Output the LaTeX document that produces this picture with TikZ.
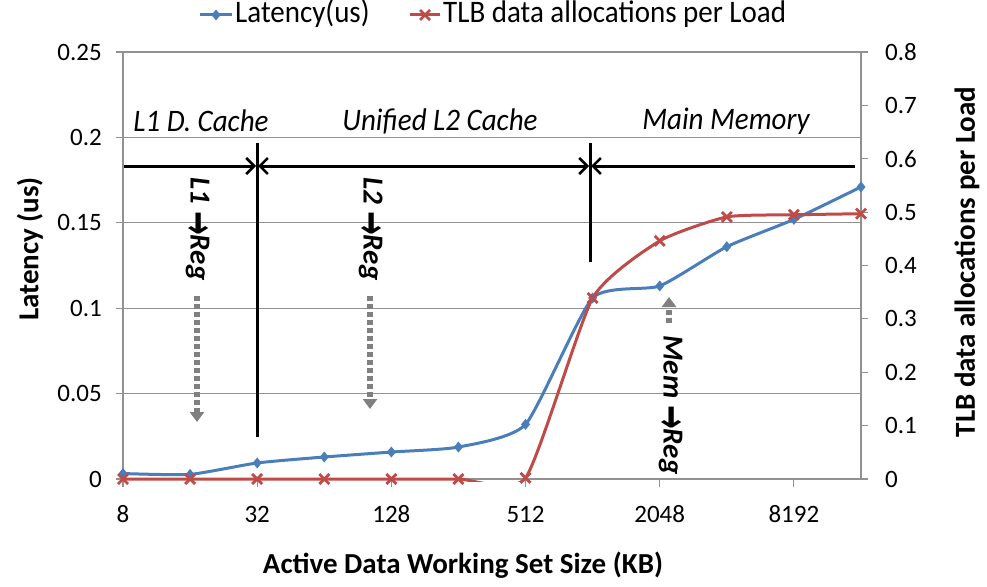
\documentclass[tikz,border=0pt]{standalone}
\usepackage{fontspec}
\setmainfont{Carlito}
\newfontfamily\arrowfont{DejaVu Sans}
\usetikzlibrary{arrows.meta}

\definecolor{serblue}{RGB}{74,126,187}
\definecolor{serred}{RGB}{190,75,72}
\definecolor{gridgray}{RGB}{145,145,145}
\definecolor{arrgray}{RGB}{128,128,128}

\newcommand\setfs[1]{\fontsize{#1}{#1}\selectfont}
\newcommand\tall[1]{\scalebox{1}[1.08]{#1}}
\newcommand\xferarrow{\raisebox{-6pt}{\scalebox{0.95}[1.5]{\arrowfont\bfseries\setfs{30}→}}}

\tikzset{
  gridline/.style={draw=gridgray, line width=1.1pt},
  ticklab/.style={font=\setfs{25}, inner sep=0pt},
  axislab/.style={font=\setfs{29}\bfseries, inner sep=0pt},
  legendlab/.style={font=\setfs{29}, inner sep=0pt, anchor=west},
  regionlab/.style={font=\setfs{29}\itshape, inner sep=0pt},
  transferlab/.style={font=\setfs{29}\bfseries\itshape, inner sep=0pt, rotate=-90},
  bound/.style={draw=black, line width=3pt},
  spanline/.style={draw=black, line width=3pt},
  spanto/.style={-{Straight Barb[length=8pt, width=16pt, line width=2.5pt]}},
  spanfrom/.style={{Straight Barb[length=8pt, width=16pt, line width=2.5pt]}-},
  spanboth/.style={{Straight Barb[length=8pt, width=16pt, line width=2.5pt]}-{Straight Barb[length=8pt, width=16pt, line width=2.5pt]}},
  flowarrow/.style={draw=arrgray, line width=5.5pt, dash pattern=on 5pt off 3pt,
    -{Triangle[length=10pt, width=14pt]}},
  latency/.style={draw=serblue, line width=3pt},
  tlb/.style={draw=serred, line width=3pt},
}

% data-point markers, sized in absolute units
\newcommand\bluediamond[1]{\fill[serblue] #1 ++(0pt,5.5pt) -- ++(4.5pt,-5.5pt) -- ++(-4.5pt,-5.5pt) -- ++(-4.5pt,5.5pt) -- cycle;}
\newcommand\redcross[1]{\draw[serred, line width=2.8pt] #1 ++(-5pt,-5pt) -- ++(10pt,10pt) ++(-10pt,0pt) -- ++(10pt,-10pt);}

\begin{document}
\begin{tikzpicture}[x=1pt, y=-1pt]
  \useasboundingbox (0,0) rectangle (987,586);

  % horizontal gridlines (left axis, step 0.05) and left ticks
  \foreach \v/\lab in {0/0, 0.05/0.05, 0.1/0.1, 0.15/0.15, 0.2/0.2, 0.25/0.25} {
    \pgfmathsetmacro\py{479-1708*\v}
    \draw[gridline] (116,\py) -- (861,\py);
    \node[ticklab, anchor=east] (yl-\lab) at (102,\py) {\lab};
  }
  % plot frame sides
  \draw[gridline] (123,52) -- (123,479);
  \draw[gridline] (861,52) -- (861,479);
  % right axis ticks and labels (step 0.1)
  \foreach \k in {0,...,8} {
    \pgfmathsetmacro\py{479-53.375*\k}
    \draw[gridline] (861,\py) -- (868,\py);
    \node[ticklab, anchor=west] (yr-\k) at (885,\py) {\ifnum\k=0 0\else 0.\k\fi};
  }
  % category ticks and labels
  \foreach \i/\lab in {0/8, 2/32, 4/128, 6/512, 8/2048, 10/8192} {
    \pgfmathsetmacro\px{123+67.09*\i}
    \draw[gridline] (\px,479) -- (\px,487);
    \node[ticklab] (xl-\lab) at (\px,514) {\lab};
  }

  % axis titles
  \node[axislab, rotate=90] (ytitle) at (30,249) {Latency (us)};
  \node[axislab, rotate=90] (y2title) at (967,262) {TLB data allocations per Load};
  \node[axislab] (xtitle) at (463,565) {Active Data Working Set Size (KB)};

  % legend
  \coordinate (lgb1) at (200,15);
  \coordinate (lgb2) at (232,15);
  \draw[latency] (lgb1) -- (lgb2);
  \bluediamond{(216,15)}
  \node[legendlab] (lg-lat) at (235,14) {\tall{Latency(us)}};
  \coordinate (lgr1) at (410,15);
  \coordinate (lgr2) at (440,15);
  \draw[tlb] (lgr1) -- (lgr2);
  \redcross{(425,15)}
  \node[legendlab] (lg-tlb) at (443,14) {\tall{TLB data allocations per Load}};

  % memory hierarchy regions
  \node[regionlab] (r-l1) at (201,121) {\tall{L1 D. Cache}};
  \node[regionlab] (r-l2) at (440,121) {\tall{Unified L2 Cache}};
  \node[regionlab] (r-mem) at (726,121) {\tall{Main Memory}};

  \coordinate (b1top) at (257,143);
  \coordinate (b1bot) at (257,437);
  \coordinate (b2top) at (590,143);
  \coordinate (b2bot) at (590,262);
  \draw[bound] (b1top) -- (b1bot);
  \draw[bound] (b2top) -- (b2bot);

  \coordinate (s1a) at (124,166);
  \coordinate (s1b) at (256,166);
  \coordinate (s2a) at (258,166);
  \coordinate (s2b) at (589,166);
  \coordinate (s3a) at (591,166);
  \coordinate (s3b) at (855,166);
  \draw[spanline, spanto] (s1a) -- (s1b);
  \draw[spanline, spanboth] (s2a) -- (s2b);
  \draw[spanline, spanfrom] (s3a) -- (s3b);

  % transfer annotations
  \node[transferlab] (t-l1) at (197,229) {L1 \xferarrow Reg};
  \node[transferlab] (t-l2) at (370,229) {L2 \xferarrow Reg};
  \node[transferlab] (t-mem) at (670,405) {Mem \xferarrow Reg};

  \coordinate (f1a) at (197,296);
  \coordinate (f1b) at (197,422);
  \coordinate (f2a) at (370,296);
  \coordinate (f2b) at (370,409);
  \coordinate (f3a) at (669,323);
  \coordinate (f3b) at (669,297);
  \draw[flowarrow] (f1a) -- (f1b);
  \draw[flowarrow] (f2a) -- (f2b);
  \draw[flowarrow] (f3a) -- (f3b);

  % series curves, clipped to the plot area
  \begin{scope}
    \clip (116,40) rectangle (868,481);
    \begin{scope}[shift={(123,479)}, x=67.09pt, y=1708pt]
      \draw[latency] plot[smooth, tension=0.3333] coordinates {
        (0,0.0032) (1,0.0027) (2,0.0094) (3,0.0129) (4,0.0158) (5,0.0187)
        (6,0.032) (7,0.106) (8,0.113) (9,0.136) (10,0.152) (11,0.171)};
    \end{scope}
    \begin{scope}[shift={(123,479)}, x=67.09pt, y=533.75pt]
      \draw[tlb] plot[smooth, tension=0.3333] coordinates {
        (0,0) (1,0) (2,0) (3,0) (4,0) (5,0)
        (6,0.002) (7,0.339) (8,0.446) (9,0.491) (10,0.495) (11,0.497)};
    \end{scope}
  \end{scope}

  % series markers
  \begin{scope}[shift={(123,479)}, x=67.09pt, y=1708pt]
    \foreach \i/\v in {0/0.0032, 1/0.0027, 2/0.0094, 3/0.0129, 4/0.0158, 5/0.0187,
                       6/0.032, 7/0.106, 8/0.113, 9/0.136, 10/0.152, 11/0.171}
      {\bluediamond{(\i,\v)}}
  \end{scope}
  \begin{scope}[shift={(123,479)}, x=67.09pt, y=533.75pt]
    \foreach \i/\v in {0/0, 1/0, 2/0, 3/0, 4/0, 5/0,
                       6/0.002, 7/0.339, 8/0.446, 9/0.491, 10/0.495, 11/0.497}
      {\redcross{(\i,\v)}}
  \end{scope}
\end{tikzpicture}
\end{document}
